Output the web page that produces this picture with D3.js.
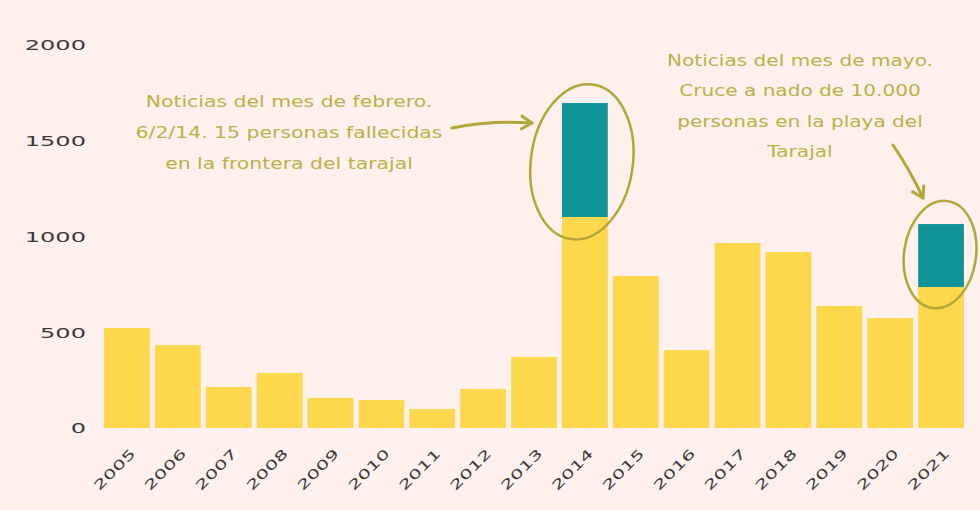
<!DOCTYPE html>
<html><head><meta charset="utf-8">
<script src="https://cdn.jsdelivr.net/npm/d3@7"></script>
<style>
html,body{margin:0;padding:0;background:#fdf0ed;}
svg{display:block;}
</style></head>
<body>
<svg id="chart" width="980" height="510"></svg>
<script>
const years = ["2005","2006","2007","2008","2009","2010","2011","2012","2013","2014","2015","2016","2017","2018","2019","2020","2021"];
const baseValues = [522,433,214,287,157,146,99,204,371,1102,794,407,966,919,637,574,736];
const highlightValues = [0,0,0,0,0,0,0,0,0,595,0,0,0,0,0,0,329];
const yTicks = [0,500,1000,1500,2000];
const note1 = ["Noticias del mes de febrero.","6/2/14. 15 personas fallecidas","en la frontera del tarajal"];
const note2 = ["Noticias del mes de mayo.","Cruce a nado de 10.000","personas en la playa del","Tarajal"];

const svg = d3.select("#chart");
svg.append("rect").attr("width",980).attr("height",510).attr("fill","#fdf0ed");

const x = d3.scaleBand().domain(years).range([101.5,966.5]).paddingInner(0.1).paddingOuter(0.05);
const y = d3.scaleLinear().domain([0,2000]).range([428,45]);

const font = "'DejaVu Sans', Verdana, sans-serif";

// y axis labels
const yAxis = d3.axisLeft(y).tickValues(yTicks).tickSize(0).tickPadding(0).tickFormat(d3.format("d"));
const ya = svg.append("g").attr("transform","translate(86,0)").call(yAxis);
ya.select(".domain").remove();
ya.selectAll("text").attr("font-family",font).attr("font-size",14).attr("fill","#3a3a3a")
  .attr("dy","0.35em").attr("transform","scale(1.72,1)");

// bars
svg.append("g").selectAll("rect").data(years).join("rect")
  .attr("x",d=>x(d)).attr("width",x.bandwidth())
  .attr("y",(d,i)=>y(baseValues[i])).attr("height",(d,i)=>y(0)-y(baseValues[i]))
  .attr("fill","#fdd84c");
svg.append("g").selectAll("rect").data(years.filter((d,i)=>highlightValues[i]>0)).join("rect")
  .attr("x",d=>x(d)).attr("width",x.bandwidth())
  .attr("y",d=>{const i=years.indexOf(d);return y(baseValues[i]+highlightValues[i]);})
  .attr("height",d=>{const i=years.indexOf(d);return y(baseValues[i])-y(baseValues[i]+highlightValues[i]);})
  .attr("fill","#0f9597");

// x axis labels
const xAxis = d3.axisBottom(x).tickSize(0).tickPadding(0);
const xa = svg.append("g").attr("transform","translate(0,436)").call(xAxis);
xa.select(".domain").remove();
xa.selectAll("text").attr("font-family",font).attr("font-size",13).attr("fill","#3a3a3a")
  .attr("text-anchor","end").attr("dy","0.35em").attr("y",0)
  .attr("transform","translate(6,15) rotate(-45) scale(1.58,1)");

// annotations
const annColor = "#bab046";
const g1 = svg.append("g").attr("transform","translate(289,0) scale(1.36,1)")
  .append("text").attr("font-family",font).attr("font-size",15).attr("fill",annColor).attr("text-anchor","middle");
note1.forEach((t,i)=>g1.append("tspan").attr("x",0).attr("y",107+i*31).text(t));
const g2 = svg.append("g").attr("transform","translate(800,0) scale(1.34,1)")
  .append("text").attr("font-family",font).attr("font-size",15).attr("fill",annColor).attr("text-anchor","middle");
note2.forEach((t,i)=>g2.append("tspan").attr("x",0).attr("y",66+i*30.5).text(t));

const lineColor = "#b2a636";
// ellipses
const x14 = x("2014")+x.bandwidth()/2, x21 = x("2021")+x.bandwidth()/2;
svg.append("ellipse").attr("cx",0).attr("cy",0).attr("rx",51).attr("ry",78)
  .attr("transform",`translate(${x14-3},${(y(1700)+y(1080))/2}) rotate(8)`)
  .attr("fill","none").attr("stroke",lineColor).attr("stroke-width",2.5);
svg.append("ellipse").attr("cx",0).attr("cy",0).attr("rx",36).attr("ry",54)
  .attr("transform",`translate(${x21-1},${(y(1070)+y(720))/2 - 2}) rotate(8)`)
  .attr("fill","none").attr("stroke",lineColor).attr("stroke-width",2.5);

// arrows
function arrow(path, tip, ang){
  svg.append("path").attr("d",path).attr("fill","none").attr("stroke",lineColor).attr("stroke-width",3).attr("stroke-linecap","round");
  const a = ang*Math.PI/180, L=12, s=0.55;
  const p1=[tip[0]-L*Math.cos(a-s), tip[1]-L*Math.sin(a-s)];
  const p2=[tip[0]-L*Math.cos(a+s), tip[1]-L*Math.sin(a+s)];
  svg.append("path").attr("d",`M${p1[0]},${p1[1]} L${tip[0]},${tip[1]} L${p2[0]},${p2[1]}`)
    .attr("fill","none").attr("stroke",lineColor).attr("stroke-width",3).attr("stroke-linecap","round").attr("stroke-linejoin","round");
}
arrow("M452,128 Q490,120 532,123",[532,123],3);
arrow("M893,145 Q910,170 923,198",[923,198],62);
</script>
</body></html>
